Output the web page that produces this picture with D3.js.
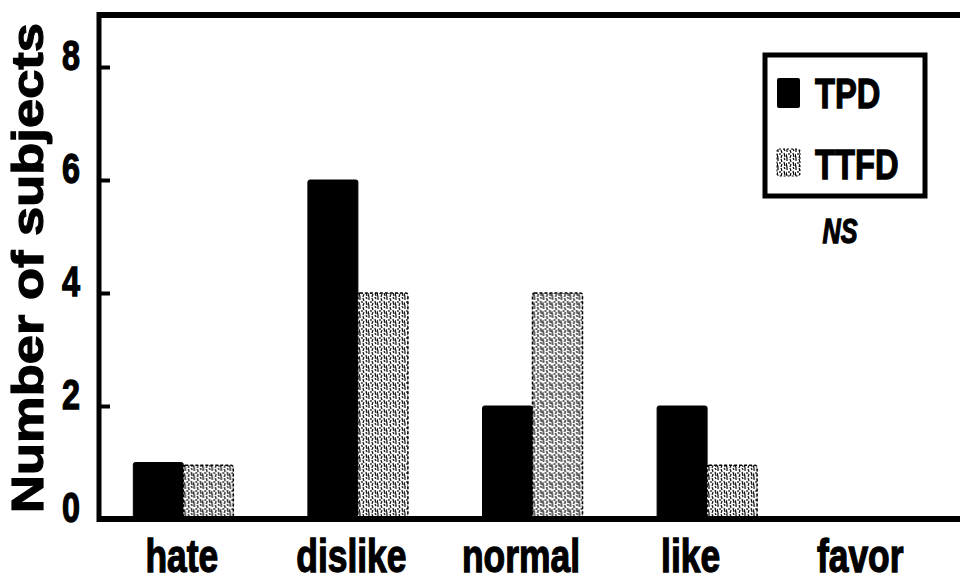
<!doctype html>
<html lang="en">
<head>
  <meta charset="utf-8">
  <title>number of subjects</title>
  <style>
    * { margin: 0; padding: 0; box-sizing: border-box; }
    body { background: #fff; }
    .narrow { font-family: 'Liberation Sans', Arial, sans-serif; font-weight: bold; stroke: #000; stroke-width: 1.3px; }
  </style>
</head>
<body>
  <div class="chart"></div>
  <script src="https://cdn.jsdelivr.net/npm/d3@7"></script>
  <script>
    // ---------------------------------------------------------------
    //@@ data
    const categories = ['hate', 'dislike', 'normal', 'like', 'favor'];
    const seriesNames = ['TPD', 'TTFD'];
    const tpdValues = [1, 6, 2, 2, 0];
    const ttfdValues = [0.95, 4, 4, 0.95, 0];
    const yTicks = [0, 2, 4, 6, 8];

    const rows = categories.map((c, i) => ({cat: c, TPD: tpdValues[i], TTFD: ttfdValues[i]}));

    //@@ svg configuration
    const svgDim = {w: 960, h: 581};
    const plot = {l: 99, t: 15, b: 519, r: 960};
    const squeeze = 0.77; // condensed look for the bold labels

    const svg = d3.select('.chart').append('svg')
      .attr('width', svgDim.w)
      .attr('height', svgDim.h);

    //@@ stipple pattern for TTFD
    const defs = svg.append('defs');
    const pat = defs.append('pattern')
      .attr('id', 'stipple')
      .attr('patternUnits', 'userSpaceOnUse')
      .attr('width', 9)
      .attr('height', 9);
    pat.append('rect').attr('width', 9).attr('height', 9).attr('fill', '#fff');
    pat.append('path')
      .attr('d', 'M1,0 L1,3 M0,5 L1,9 M4,1 L5,4 M5,6 L4,9 M7,0 L8,2 M7,4 L8,8 M3,4 L3,6')
      .attr('stroke', '#000')
      .attr('stroke-width', 1.2)
      .attr('fill', 'none');

    //@@ scales
    const x = d3.scaleBand().domain(categories).range([97, 970]);
    const xSub = d3.scaleBand().domain(seriesNames).range([-51, 49]);
    const xLabel = d3.scaleBand().domain(categories).range([97, 945]);
    const y = d3.scaleLinear().domain([0, 8]).range([plot.b, 67]);

    //@@ bars
    const groups = svg.append('g').attr('note', 'bars')
      .selectAll('g')
      .data(rows)
      .enter()
      .append('g')
      .attr('transform', d => `translate(${x(d.cat) + x.bandwidth() / 2},0)`);

    groups.selectAll('rect')
      .data(d => seriesNames.map(s => ({s, v: d[s]})).filter(e => e.v > 0))
      .enter()
      .append('rect')
      .attr('x', d => xSub(d.s))
      .attr('width', xSub.bandwidth())
      .attr('y', d => y(d.v))
      .attr('height', d => plot.b - y(d.v))
      .attr('rx', 2)
      .attr('fill', d => d.s === 'TPD' ? '#000' : 'url(#stipple)')
      .attr('stroke', '#000')
      .attr('stroke-width', d => d.s === 'TPD' ? 1 : 1.5)
      .attr('stroke-dasharray', d => d.s === 'TPD' ? null : '3,2');

    //@@ frame
    const frame = svg.append('g').attr('note', 'frame');
    frame.append('line')
      .attr('x1', plot.l).attr('x2', plot.r)
      .attr('y1', plot.t).attr('y2', plot.t)
      .attr('stroke', '#000').attr('stroke-width', 6);
    frame.append('line')
      .attr('x1', plot.l).attr('x2', plot.l)
      .attr('y1', plot.t - 3).attr('y2', plot.b + 3)
      .attr('stroke', '#000').attr('stroke-width', 5);
    frame.append('line')
      .attr('x1', plot.l - 2).attr('x2', plot.r)
      .attr('y1', plot.b).attr('y2', plot.b)
      .attr('stroke', '#000').attr('stroke-width', 6);

    //@@ axis Y
    const axisY = d3.axisLeft(y)
      .tickValues(yTicks)
      .tickSizeInner(-11)
      .tickSizeOuter(0)
      .tickPadding(19);
    const gY = svg.append('g')
      .attr('transform', `translate(${plot.l},0)`)
      .call(axisY);
    gY.select('.domain').remove();
    gY.selectAll('.tick line').attr('stroke', '#000').attr('stroke-width', 4);
    gY.selectAll('.tick text')
      .attr('class', 'narrow')
      .attr('font-size', 42)
      .attr('x', -19 / squeeze)
      .attr('dy', '0.06em')
      .attr('transform', `scale(${squeeze},1)`)
      .attr('fill', '#000');

    //@@ axis X labels
    const axisX = d3.axisBottom(xLabel).tickSize(0).tickPadding(0);
    const gX = svg.append('g')
      .attr('transform', `translate(0,${plot.b})`)
      .call(axisX);
    gX.select('.domain').remove();
    gX.selectAll('.tick text')
      .attr('class', 'narrow')
      .attr('font-size', 46)
      .attr('y', 53)
      .attr('dy', 0)
      .attr('transform', `scale(${squeeze},1)`)
      .attr('fill', '#000');

    //@@ Y title
    svg.append('text')
      .attr('transform', 'translate(43,268) rotate(-90)')
      .attr('text-anchor', 'middle')
      .attr('font-family', "'Liberation Sans', Arial, sans-serif")
      .attr('font-weight', 'bold')
      .attr('font-size', 45)
      .attr('stroke', '#000')
      .attr('stroke-width', 1.2)
      .attr('textLength', 490)
      .attr('lengthAdjust', 'spacingAndGlyphs')
      .text('Number of subjects');

    //@@ legend
    const legend = svg.append('g').attr('note', 'legend');
    legend.append('rect')
      .attr('x', 765).attr('y', 55)
      .attr('width', 160).attr('height', 141)
      .attr('fill', '#fff')
      .attr('stroke', '#000').attr('stroke-width', 5);
    const items = legend.selectAll('g.item')
      .data(seriesNames)
      .enter()
      .append('g')
      .attr('class', 'item')
      .attr('transform', (d, i) => `translate(777,${78 + i * 71})`);
    items.append('rect')
      .attr('width', 23).attr('height', d => d === 'TPD' ? 30 : 27)
      .attr('rx', 2)
      .attr('fill', d => d === 'TPD' ? '#000' : 'url(#stipple)')
      .attr('stroke', d => d === 'TPD' ? 'none' : '#000')
      .attr('stroke-dasharray', '2,2');
    items.append('text')
      .attr('class', 'narrow')
      .attr('transform', `translate(38,30) scale(0.76,1)`)
      .attr('font-size', 43)
      .text(d => d);

    legend.append('text')
      .attr('class', 'narrow')
      .attr('transform', 'translate(840,243) scale(0.72,1)')
      .attr('text-anchor', 'middle')
      .attr('font-style', 'italic')
      .attr('font-size', 35)
      .text('NS');
  </script>
</body>
</html>
